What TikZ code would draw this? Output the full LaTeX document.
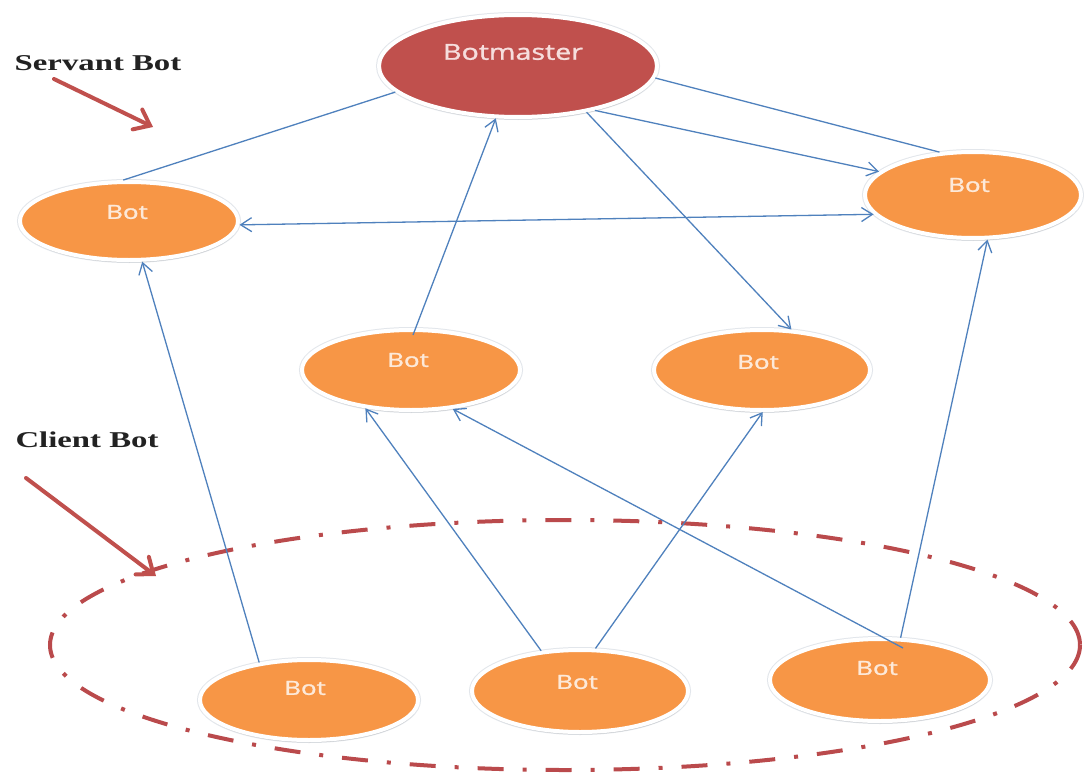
\documentclass[tikz,border=0pt]{standalone}
\usepackage{fontspec}
\setmainfont{Liberation Serif}
\newfontfamily\botfont[FakeBold=1.2]{Open Sans}
\usetikzlibrary{shapes.geometric,arrows.meta,shadows,calc}

\definecolor{botorange}{HTML}{F79646}
\definecolor{masterred}{HTML}{C0504D}
\definecolor{linkblue}{HTML}{4F81BD}
\definecolor{botlabel}{HTML}{FDE9D9}
\definecolor{masterlabel}{HTML}{F6DEDD}
\definecolor{ringred}{HTML}{BA4A4C}
\definecolor{captiongray}{HTML}{222222}
\definecolor{rimgray}{HTML}{E2E6EB}

\newcommand{\wideby}[2]{\scalebox{#1}[1]{#2}}

\tikzset{
  botnode/.style={ellipse, draw=white, line width=4pt, fill=botorange, inner sep=0pt,
    preaction={draw=rimgray, line width=6pt},
    drop shadow={shadow xshift=0.5pt, shadow yshift=-2.5pt, opacity=0.30, fill=black!45}},
  bottext/.style={font=\botfont\fontsize{19.5}{20}\selectfont, text=botlabel, inner sep=0pt},
  mastertext/.style={font=\botfont\fontsize{22}{24}\selectfont, text=masterlabel, inner sep=0pt},
  link/.style={draw=linkblue, line width=1.3pt},
  linktip/.style={-{Straight Barb[length=11pt, width=14pt]}},
  bothtips/.style={{Straight Barb[length=11pt, width=14pt]}-{Straight Barb[length=11pt, width=14pt]}},
  caption/.style={font=\fontsize{22.6}{24}\selectfont\bfseries, text=captiongray, inner sep=0pt},
  pointer/.style={draw=masterred, line width=4pt, line cap=round,
    -{Straight Barb[length=14pt, width=22pt, line cap=round]}},
  ring/.style={draw=ringred, line width=4pt,
    dash pattern=on 26pt off 19pt on 4pt off 19pt}
}

\begin{document}
\begin{tikzpicture}[x=1pt, y=-1pt]
  % canvas
  \fill[white] (0,0) rectangle (1084,776);
  \useasboundingbox (0,0) rectangle (1084,776);

  % client group outline
  \draw[ring] (565,645) ellipse [x radius=515, y radius=125];

  % botmaster
  \node[botnode, fill=masterred, minimum width=278pt, minimum height=102pt,
        label={[mastertext, xshift=-5pt, yshift=14pt]center:\wideby{1.3}{Botmaster}}]
        (bm) at (518,66) {};

  % servant bots
  \node[botnode, minimum width=218pt, minimum height=78pt,
        label={[bottext, xshift=-2pt, yshift=9pt]center:\wideby{1.33}{Bot}}]
        (tl) at (129,221) {};
  \node[botnode, minimum width=216pt, minimum height=86pt,
        label={[bottext, xshift=-4pt, yshift=10pt]center:\wideby{1.33}{Bot}}]
        (tr) at (973,195) {};
  \node[botnode, minimum width=218pt, minimum height=80pt,
        label={[bottext, xshift=-3pt, yshift=10pt]center:\wideby{1.33}{Bot}}]
        (ml) at (411,370) {};
  \node[botnode, minimum width=216pt, minimum height=80pt,
        label={[bottext, xshift=-4pt, yshift=8pt]center:\wideby{1.33}{Bot}}]
        (mr) at (762,370) {};

  % client bots
  \node[botnode, minimum width=218pt, minimum height=80pt,
        label={[bottext, xshift=-4pt, yshift=12pt]center:\wideby{1.33}{Bot}}]
        (bl) at (309,700) {};
  \node[botnode, minimum width=216pt, minimum height=82pt,
        label={[bottext, xshift=-3pt, yshift=9pt]center:\wideby{1.33}{Bot}}]
        (bc) at (580,691) {};
  \node[botnode, minimum width=220pt, minimum height=82pt,
        label={[bottext, xshift=-3pt, yshift=12pt]center:\wideby{1.33}{Bot}}]
        (br) at (880,680) {};

  % links between bots
  \draw[link] (tl.98) -- (bm.192);
  \draw[link] (bm.355) -- (tr.128);
  \draw[link, linktip] (bm.330) -- (tr.166);
  \draw[link, bothtips] (tl.358) -- (tr.191);
  \draw[link, linktip] ($(ml.center)+(2,-35)$) -- (bm.247);
  \draw[link, linktip] (bm.326) -- (mr.54);
  \draw[link, linktip] (bl.143) -- (tl.288);
  \draw[link, linktip] (bc.134) -- (ml.220);
  \draw[link, linktip] (bc.70) -- (mr.271);
  \draw[link, linktip] ($(br.center)+(23,-32)$) -- (ml.317);
  \draw[link, linktip] (br.64) -- (tr.288);

  % captions and their pointers
  \node[caption] (servant) at (98,63) {\wideby{1.45}{Servant Bot}};
  \node[caption] (client) at (87,440) {\wideby{1.45}{Client Bot}};
  \coordinate (servtail) at (54,79);
  \coordinate (servtip) at (153,127);
  \coordinate (clienttail) at (26,478);
  \coordinate (clienttip) at (156,576);
  \draw[pointer] (servtail) -- (servtip);
  \draw[pointer] (clienttail) -- (clienttip);
\end{tikzpicture}
\end{document}
